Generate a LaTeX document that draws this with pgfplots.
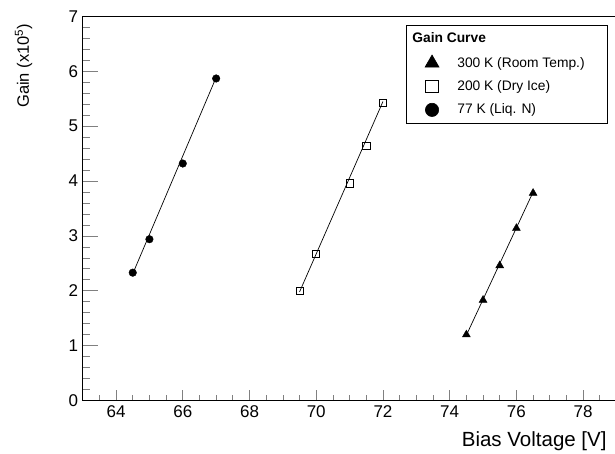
\documentclass[border=0pt]{standalone}
\usepackage{pgfplots}
\pgfplotsset{compat=1.18}
\usepackage{fontspec}
\setmainfont{Liberation Sans}

\begin{document}
\begin{tikzpicture}
\useasboundingbox (0,0) rectangle (615bp,454bp);
\begin{axis}[
  at={(82.7bp,53.5bp)}, anchor=south west,
  scale only axis, width=533.8bp, height=384bp,
  xmin=63, xmax=79, ymin=0, ymax=7,
  xtick={64,66,...,78}, ytick={0,1,...,7},
  minor xtick={63.5,64,...,79},
  minor ytick={0.2,0.4,...,6.9},
  tick align=inside, xtick pos=bottom, ytick pos=left,
  axis line style={line width=0.8bp},
  xtick style={line width=0.7bp, /pgfplots/major tick length=10.7bp, /pgfplots/minor tick length=5.4bp},
  ytick style={line width=0.7bp, /pgfplots/major tick length=15bp, /pgfplots/minor tick length=7.5bp},
  /pgf/number format/assume math mode=true,
  ticklabel style={font=\fontsize{17bp}{20bp}\selectfont},
  xticklabel style={yshift=-2bp},
  yticklabel style={xshift=-1bp},
  xlabel={Bias Voltage [V]},
  ylabel={Gain (x10\textsuperscript{5})},
  xlabel style={font=\fontsize{20.5bp}{24bp}\selectfont,
    at={(axis description cs:0.988,-0.121)}, anchor=base east},
  ylabel style={font=\fontsize{16.5bp}{20bp}\selectfont,
    at={(axis description cs:-0.1006,0.99)}, anchor=base east},
  legend cell align=left,
  legend image code/.code={\draw[#1, every mark/.append style={scale=1.75}] plot coordinates {(20bp,0bp)}; \path (0bp,0bp) (40bp,0bp);},
  legend style={at={(0.984,0.977)}, anchor=north east, draw=black,
    line width=0.6bp, fill=white,
    font=\fontsize{13.8bp}{16bp}\selectfont,
    inner xsep=5bp, inner ysep=6bp, row sep=9.4bp, column sep=5bp,
    nodes={inner sep=0pt, text height=11bp, text depth=3bp}},
]
\addlegendimage{empty legend}
\addlegendentry{\hspace*{-45bp}\textbf{Gain Curve}}

% 300 K
\addplot[only marks, mark=triangle*, mark size=4.6bp, black]
  coordinates {(74.5,1.20) (75.0,1.83) (75.5,2.46) (76.0,3.14) (76.5,3.78)};
\addlegendentry{300 K (Room Temp.)\rule{18bp}{0pt}}
% 200 K
\addplot[only marks, mark=square, mark size=3.6bp, black, mark options={line width=0.7bp, fill=white}]
  coordinates {(69.5,2.00) (70.0,2.67) (71.0,3.96) (71.5,4.64) (72.0,5.43)};
\addlegendentry{200 K (Dry Ice)}
% 77 K
\addplot[only marks, mark=*, mark size=3.8bp, black]
  coordinates {(64.5,2.33) (65.0,2.94) (66.0,4.32) (67.0,5.87)};
\addlegendentry{77 K (Liq. N)}

% fit lines
\addplot[forget plot, black, line width=0.7bp] coordinates {(74.5,1.19) (76.5,3.80)};
\addplot[forget plot, black, line width=0.7bp] coordinates {(69.5,1.98) (72.0,5.45)};
\addplot[forget plot, black, line width=0.7bp] coordinates {(64.5,2.31) (67.0,5.89)};
\end{axis}
\end{tikzpicture}
\end{document}
